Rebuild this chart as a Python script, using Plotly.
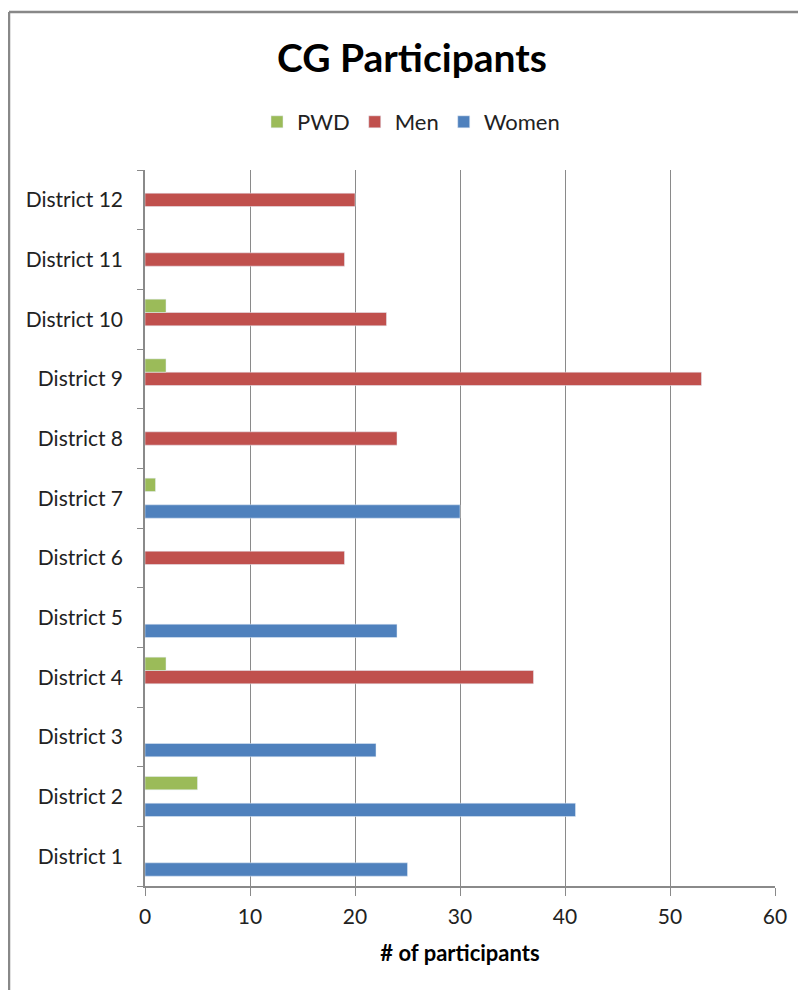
import plotly.graph_objects as go

districts = ["District 1", "District 2", "District 3", "District 4", "District 5", "District 6",
             "District 7", "District 8", "District 9", "District 10", "District 11", "District 12"]
women = [25, 41, 22, None, 24, None, 30, None, None, None, None, None]
men = [None, None, None, 37, None, 19, None, 24, 53, 23, 19, 20]
pwd = [None, 5, None, 2, None, None, 1, None, 2, 2, None, None]
x_ticks = [0, 10, 20, 30, 40, 50, 60]

FONT = "Lato"
GRID = "#8a8a8a"

fig = go.Figure()
fig.add_trace(go.Bar(name="Women", y=districts, x=women, orientation="h", marker_color="#4F81BD"))
fig.add_trace(go.Bar(name="Men", y=districts, x=men, orientation="h", marker_color="#C0504D"))
fig.add_trace(go.Bar(name="PWD", y=districts, x=pwd, orientation="h", marker_color="#9BBB59"))

OFF = 8  # page body margin
W, H = 806, 990
L, R, T, B = 145 - OFF, W - (775 - OFF), 170 - OFF, H - (886 - OFF)
pw, ph = W - L - R, H - T - B

def px(x):
    return (x - OFF - L) / pw

def py(y):
    return (H - B - (y - OFF)) / ph

fig.update_layout(
    width=W, height=H,
    margin=dict(l=L, r=R, t=T, b=B),
    paper_bgcolor="white", plot_bgcolor="white",
    barmode="group", bargap=0.33, bargroupgap=0,
    font=dict(family=FONT, size=21, color="#222"),
    title=dict(text="<b>CG Participants</b>", x=(412 - OFF) / W, xref="container", xanchor="center",
               y=1 - (58 - OFF) / H, yref="container", yanchor="middle",
               font=dict(family=FONT, size=39, color="#000")),
    legend=dict(orientation="h", traceorder="reversed", xref="container", yref="container",
                x=(411 - OFF) / W, xanchor="center", y=1 - (122 - OFF) / H, yanchor="middle",
                font=dict(family=FONT, size=22, color="#222"), itemwidth=30),
    xaxis=dict(range=[0, 60], tickvals=x_ticks, showgrid=True, gridcolor=GRID, gridwidth=1,
               showline=True, linecolor=GRID, linewidth=1.5, ticks="outside", ticklen=8,
               tickcolor=GRID, zeroline=False, ticklabelstandoff=3,
               title=dict(text="<b># of participants</b>", font=dict(family=FONT, size=22, color="#000"),
                          standoff=19),
               tickfont=dict(size=21, color="#222")),
    yaxis=dict(type="category", categoryorder="array", categoryarray=districts,
               showline=True, linecolor=GRID, linewidth=1.5, ticks="outside", ticklen=6,
               tickcolor=GRID, tickson="boundaries", showgrid=False, zeroline=False,
               ticklabelstandoff=16, tickfont=dict(size=21, color="#222")),
    shapes=[
        dict(type="line", xref="paper", yref="paper", x0=px(9), x1=px(W + 20), y0=py(12), y1=py(12),
             line=dict(color="#888", width=2.5)),
        dict(type="line", xref="paper", yref="paper", x0=px(9), x1=px(9), y0=py(12), y1=py(H + 20),
             line=dict(color="#888", width=2.5)),
    ],
)

fig.write_html("out.html")
